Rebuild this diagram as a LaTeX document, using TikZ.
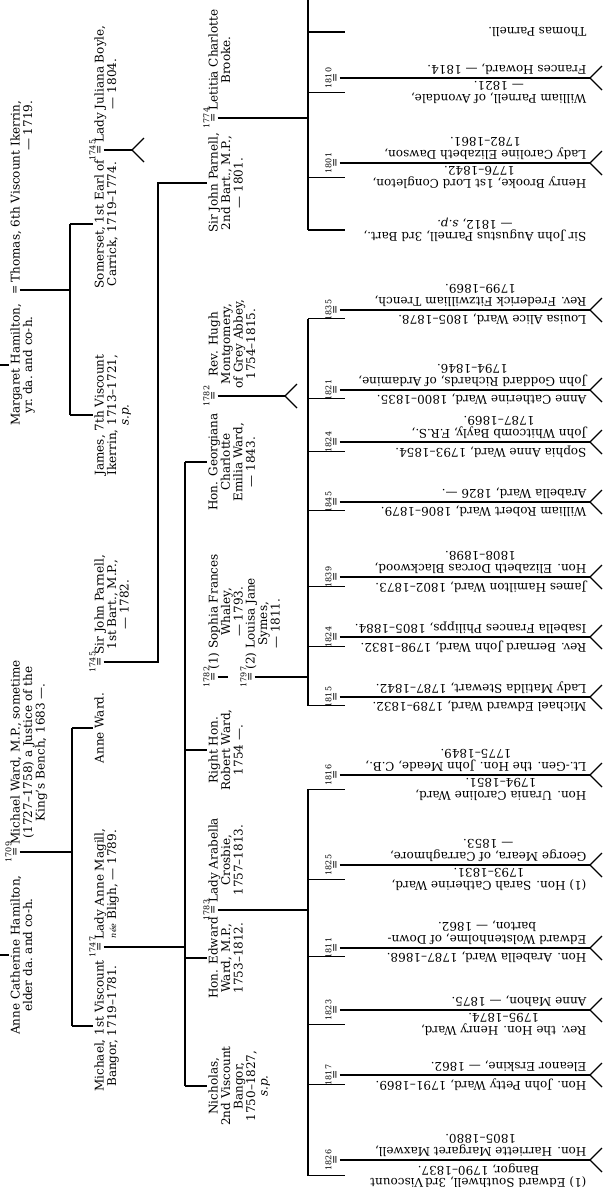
\documentclass[tikz,border=0pt]{standalone}
\usepackage{fontspec}
\setmainfont{DejaVu Serif}
\begin{document}
\begin{tikzpicture}[x=1pt,y=-1pt,line width=1.1pt,
		upper/.style={rotate=90,align=center,inner sep=1pt,font=\fontsize{12}{12.5}\selectfont},
		lower/.style={rotate=180,align=center,inner sep=1pt,font=\fontsize{12}{12.5}\selectfont},
		wed/.style={rotate=90,inner sep=0.5pt,font=\fontsize{11}{11}\selectfont},
		yr/.style={rotate=90,inner sep=0.5pt,font=\fontsize{8}{8}\selectfont}]
		\useasboundingbox (0,0) rectangle (612,1187);
		\clip (0,0) rectangle (612,1187);
		% first generation
		\node[upper,anchor=north] (margaret) at (9,365) {Margaret Hamilton,\\yr.\ da.\ and co-h.};
		\node[wed] (wMT) at (16,290) {=};
		\node[upper,anchor=north west,align=right] (thomas) at (9,284) {Thomas, 6th Viscount Ikerrin,\\--- 1719.};
		\node[upper,anchor=north] (annecath) at (9,955) {Anne Catherine Hamilton,\\elder da.\ and co-h.};
		\node[wed] (wAM) at (16,852) {=};
		\node[yr,anchor=south] (y1709) at (wAM.north) {1709};
		\node[upper,anchor=north west] (mward) at (9,846) {Michael Ward, M.P., sometime\\(1727--1758) a Justice of the\\King's Bench, 1683 ---.};
		% second generation
		\node[upper,anchor=north] (somerset) at (93,224) {Somerset, 1st Earl of\\Carrick, 1719--1774.};
		\node[wed] (wSJ) at (100,150) {=};
		\node[yr,anchor=south] (y1745a) at (wSJ.north) {1745};
		\node[upper,anchor=north west] (juliana) at (93,144) {Lady Juliana Boyle,\\--- 1804.};
		\node[upper,anchor=north] (james) at (93,415) {James, 7th Viscount\\Ikerrin, 1713--1721,\\\textit{s.p.}};
		\node[upper,anchor=north] (annew) at (93,728) {Anne Ward.};
		\node[wed] (wAP) at (100,662) {=};
		\node[yr,anchor=south] (y1745b) at (wAP.north) {1745};
		\node[upper,anchor=north west] (parnell1) at (93,656) {Sir John Parnell,\\1st Bart., M.P.,\\--- 1782.};
		\node[upper,anchor=north] (michaelv) at (93,1026) {Michael, 1st Viscount\\Bangor, 1719--1781.};
		\node[wed] (wMA) at (100,947) {=};
		\node[yr,anchor=south] (y1747) at (wMA.north) {1747};
		\node[upper,anchor=north west] (ladyanne) at (93,941) {Lady Anne Magill,\\{\footnotesize\textit{née}} Bligh, --- 1789.};
		% third generation
		\node[upper,anchor=north] (parnell2) at (207,183) {Sir John Parnell,\\2nd Bart., M.P.,\\--- 1801.};
		\node[wed] (wPL) at (214,118) {=};
		\node[yr,anchor=south] (y1774) at (wPL.north) {1774};
		\node[upper,anchor=north west] (letitia) at (207,112) {Letitia Charlotte\\Brooke.};
		\node[upper,anchor=north] (georgiana) at (207,462) {Hon. Georgiana\\Charlotte\\Emilia Ward,\\--- 1843.};
		\node[wed] (wGM) at (214,396) {=};
		\node[yr,anchor=south] (y1782a) at (wGM.north) {1782};
		\node[upper,anchor=north west] (hugh) at (207,390) {Rev. Hugh\\Montgomery,\\of Grey Abbey,\\1754--1815.};
		\node[upper,anchor=north] (robert) at (207,750) {Right Hon.\\Robert Ward,\\1754 ---.};
		\node[wed] (wRS) at (214,677) {=};
		\node[yr,anchor=south] (y1782b) at (wRS.north) {1782};
		\node[upper,anchor=north west] (sophia) at (207,671) {(1) Sophia Frances\\Whaley,\\--- 1793.};
		\node[wed] (wRL) at (251,677) {=};
		\node[yr,anchor=south] (y1797) at (wRL.north) {1797};
		\node[upper,anchor=north west] (louisa) at (244,671) {(2) Louisa Jane\\Symes,\\--- 1811.};
		\node[upper,anchor=north] (edward) at (207,958) {Hon. Edward\\Ward, M.P.,\\1753--1812.};
		\node[wed] (wEA) at (214,910) {=};
		\node[yr,anchor=south] (y1783) at (wEA.north) {1783};
		\node[upper,anchor=north west] (arabella) at (207,904) {Lady Arabella\\Crosbie,\\1757--1813.};
		\node[upper,anchor=north] (nicholas) at (207,1086) {Nicholas,\\2nd Viscount\\Bangor,\\1750--1827,\\\textit{s.p.}};
		% fourth generation, Parnell
		\node[lower,anchor=west] (thomasp) at (588,32) {Thomas Parnell.};
		\node[wed] (w1810) at (336,78) {=};
		\node[yr,anchor=south] (y1810) at (w1810.north) {1810};
		\node[lower,anchor=south west] (williamp) at (588,80) {William Parnell, of Avondale,\\--- 1821.};
		\node[lower,anchor=north west] (frances) at (588,76) {Frances Howard, --- 1814.};
		\node[wed] (w1801) at (336,163) {=};
		\node[yr,anchor=south] (y1801) at (w1801.north) {1801};
		\node[lower,anchor=south west] (henryb) at (588,165) {Henry Brooke, 1st Lord Congleton,\\1776--1842.};
		\node[lower,anchor=north west] (caroline) at (588,161) {Lady Caroline Elizabeth Dawson,\\1782--1861.};
		\node[lower,anchor=west] (sirjohna) at (588,230) {Sir John Augustus Parnell, 3rd Bart.,\\--- 1812, \textit{s.p.}};
		% fourth generation, Ward of Robert
		\node[wed] (w1835) at (336,310) {=};
		\node[yr,anchor=south] (y1835) at (w1835.north) {1835};
		\node[lower,anchor=south west] (louisaa) at (588,312) {Louisa Alice Ward, 1805--1878.};
		\node[lower,anchor=north west] (trench) at (588,308) {Rev. Frederick Fitzwilliam Trench,\\1799--1869.};
		\node[wed] (w1821) at (336,390) {=};
		\node[yr,anchor=south] (y1821) at (w1821.north) {1821};
		\node[lower,anchor=south west] (annec) at (588,392) {Anne Catherine Ward, 1800--1835.};
		\node[lower,anchor=north west] (richards) at (588,388) {John Goddard Richards, of Ardamine,\\1794--1846.};
		\node[wed] (w1824a) at (336,442) {=};
		\node[yr,anchor=south] (y1824a) at (w1824a.north) {1824};
		\node[lower,anchor=south west] (sophiaa) at (588,444) {Sophia Anne Ward, 1793--1854.};
		\node[lower,anchor=north west] (bayly) at (588,440) {John Whitcomb Bayly, F.R.S.,\\1787--1869.};
		\node[wed] (w1845) at (336,502) {=};
		\node[yr,anchor=south] (y1845) at (w1845.north) {1845};
		\node[lower,anchor=south west] (williamr) at (588,504) {William Robert Ward, 1806--1879.};
		\node[lower,anchor=north west] (arabellaw) at (588,500) {Arabella Ward, 1826 ---.};
		\node[wed] (w1839) at (336,577) {=};
		\node[yr,anchor=south] (y1839) at (w1839.north) {1839};
		\node[lower,anchor=south west] (jamesh) at (588,579) {James Hamilton Ward, 1802--1873.};
		\node[lower,anchor=north west] (blackwood) at (588,575) {Hon. Elizabeth Dorcas Blackwood,\\1808--1898.};
		\node[wed] (w1824b) at (336,637) {=};
		\node[yr,anchor=south] (y1824b) at (w1824b.north) {1824};
		\node[lower,anchor=south west] (bernard) at (588,639) {Rev. Bernard John Ward, 1798--1832.};
		\node[lower,anchor=north west] (philipps) at (588,635) {Isabella Frances Philipps, 1805--1884.};
		\node[wed] (w1815) at (336,697) {=};
		\node[yr,anchor=south] (y1815) at (w1815.north) {1815};
		\node[lower,anchor=south west] (michaele) at (588,699) {Michael Edward Ward, 1789--1832.};
		\node[lower,anchor=north west] (matilda) at (588,695) {Lady Matilda Stewart, 1787--1842.};
		% fourth generation, Ward of Edward
		\node[wed] (w1816) at (336,775) {=};
		\node[yr,anchor=south] (y1816) at (w1816.north) {1816};
		\node[lower,anchor=south west] (urania) at (588,777) {Hon. Urania Caroline Ward,\\1794--1851.};
		\node[lower,anchor=north west] (meade) at (588,773) {Lt.-Gen. the Hon. John Meade, C.B.,\\1775--1849.};
		\node[wed] (w1825) at (336,865) {=};
		\node[yr,anchor=south] (y1825) at (w1825.north) {1825};
		\node[lower,anchor=south west] (sarah) at (588,867) {(1) Hon. Sarah Catherine Ward,\\1793--1831.};
		\node[lower,anchor=north west] (meara) at (588,863) {George Meara, of Carraghmore,\\--- 1853.};
		\node[wed] (w1811) at (336,948) {=};
		\node[yr,anchor=south] (y1811) at (w1811.north) {1811};
		\node[lower,anchor=south west] (arabellah) at (588,950) {Hon. Arabella Ward, 1787--1868.};
		\node[lower,anchor=north west] (wolsten) at (588,946) {Edward Wolstenholme, of Down-\\barton, --- 1862.};
		\node[wed] (w1823) at (336,1010) {=};
		\node[yr,anchor=south] (y1823) at (w1823.north) {1823};
		\node[lower,anchor=south west] (henryw) at (588,1012) {Rev. the Hon. Henry Ward,\\1795--1874.};
		\node[lower,anchor=north west] (mahon) at (588,1008) {Anne Mahon, --- 1875.};
		\node[wed] (w1817) at (336,1075) {=};
		\node[yr,anchor=south] (y1817) at (w1817.north) {1817};
		\node[lower,anchor=south west] (johnp) at (588,1077) {Hon. John Petty Ward, 1791--1869.};
		\node[lower,anchor=north west] (erskine) at (588,1073) {Eleanor Erskine, --- 1862.};
		\node[wed] (w1826) at (336,1160) {=};
		\node[yr,anchor=south] (y1826) at (w1826.north) {1826};
		\node[lower,anchor=south west] (southwell) at (588,1162) {(1) Edward Southwell, 3rd\,Viscount\\Bangor, 1790--1837.};
		\node[lower,anchor=north west] (maxwell) at (588,1158) {Hon. Harriette Margaret Maxwell,\\1805--1880.};
		% lines of descent
		\coordinate (edge) at (0,0);
		\coordinate (bIk) at (70,0);
		\coordinate (bW) at (72,0);
		\coordinate (bAP) at (158,0);
		\coordinate (bMA) at (185,0);
		\coordinate (bP) at (308,0);
		\coordinate (bR) at (308,0);
		\coordinate (bE) at (308,0);
		\coordinate (tk) at (345,0);
		\foreach \n in {margaret,annecath} \draw (edge |- \n.north) -- (\n.north);
		\draw (wMT.south) -- (wMT.south -| bIk);
		\draw (bIk |- somerset.north) -- (bIk |- james.north);
		\foreach \n in {somerset,james} \draw (bIk |- \n.north) -- (\n.north);
		\draw (wAM.south) -- (wAM.south -| bW);
		\draw (bW |- annew.north) -- (bW |- michaelv.north);
		\foreach \n in {annew,michaelv} \draw (bW |- \n.north) -- (\n.north);
		\draw (wAP.south) -- (wAP.south -| bAP) -- (bAP |- parnell2.north) -- (parnell2.north);
		\draw (wMA.south) -- (wMA.south -| bMA);
		\draw (bMA |- georgiana.north) -- (bMA |- nicholas.north);
		\foreach \n in {georgiana,robert,edward,nicholas} \draw (bMA |- \n.north) -- (\n.north);
		\draw (wRS.south) -- ++(10,0);
		\draw (wPL.south) -- (wPL.south -| bP);
		\draw (wRL.south) -- (wRL.south -| bR);
		\draw (wEA.south) -- (wEA.south -| bE);
		\draw (bP) -- (bP |- sirjohna.west);
		\foreach \n in {thomasp,williamp,henryb,sirjohna} \draw (bP |- \n.west) -- (tk |- \n.west);
		\draw (bR |- louisaa.west) -- (bR |- michaele.west);
		\foreach \n in {louisaa,annec,sophiaa,williamr,jamesh,bernard,michaele} \draw (bR |- \n.west) -- (tk |- \n.west);
		\draw (bE |- urania.west) -- (bE |- southwell.west);
		\foreach \n in {urania,sarah,arabellah,henryw,johnp,southwell} \draw (bE |- \n.west) -- (tk |- \n.west);
		% marriages with issue not shown
		\coordinate (fSJ) at (132,150);
		\coordinate (fGM) at (285,396);
		\draw (wSJ.south) -- (fSJ);
		\draw (wGM.south) -- (fGM);
		\foreach \w in {1810,1801,1835,1821,1824a,1845,1839,1824b,1815,1816,1825,1811,1823,1817,1826}
			\draw (w\w.south) -- (w\w.south -| 590,0) coordinate (f\w);
		\foreach \f in {fSJ,fGM,f1810,f1801,f1835,f1821,f1824a,f1845,f1839,f1824b,f1815,f1816,f1825,f1811,f1823,f1817,f1826}
			\draw (\f) -- ++(12,-12) (\f) -- ++(12,12);
	\end{tikzpicture}
\end{document}
